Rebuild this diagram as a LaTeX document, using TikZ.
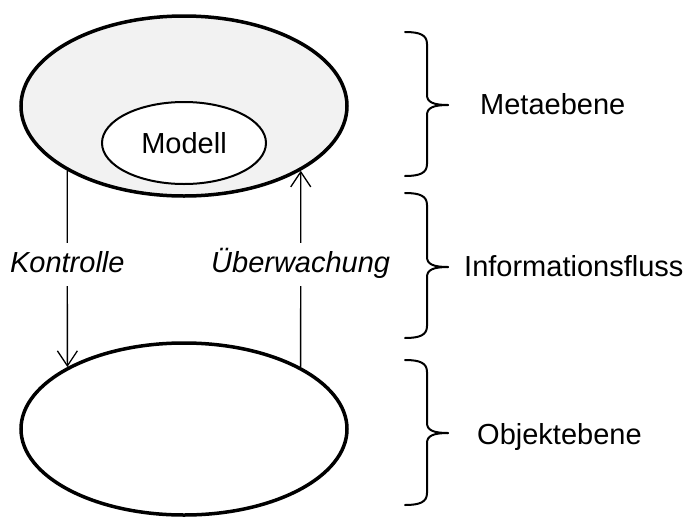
\documentclass[tikz,border=0pt]{standalone}
\usepackage{fontspec}
\setmainfont{Liberation Sans}
\usepackage{xcolor}
\definecolor{metaGray}{RGB}{242, 242, 242}
\usepackage{tikz}
\usetikzlibrary{shapes.geometric, arrows.meta}

% right-hand curly brace: top y, tip y, bottom y
\newcommand{\levelbrace}[3]{%
  \draw[brc] (405,#1) .. controls (420,#1) and (427,#1+3) .. (427,#1+12)
    -- (427,#2-10) .. controls (427,#2-3) and (433,#2) .. (448,#2);
  \draw[brc] (448,#2) .. controls (433,#2) and (427,#2+3) .. (427,#2+10)
    -- (427,#3-12) .. controls (427,#3-3) and (420,#3) .. (405,#3);
}

\begin{document}
\begin{tikzpicture}[x=1pt, y=-1pt,
  plane/.style={ellipse, draw=black, line width=3.5pt, inner sep=0pt,
                minimum width=326pt},
  model/.style={ellipse, draw=black, line width=2pt, fill=white, inner sep=0pt,
                minimum width=164pt, minimum height=82pt,
                font=\fontsize{29}{35}\selectfont},
  arr/.style={-{Straight Barb[length=15pt, width=20pt]}, line width=1.3pt},
  lbl/.style={fill=white, inner sep=7pt, text height=22pt, text depth=7pt,
              font=\fontsize{29}{35}\selectfont\itshape},
  side/.style={anchor=base west, inner sep=0pt,
               font=\fontsize{29}{35}\selectfont},
  brc/.style={line width=2pt, line cap=round}]

  \useasboundingbox (0,0) rectangle (691,517);

  % -- Metaebene ------------------------------------------------------
  \node[plane, fill=metaGray, minimum height=180pt] (meta) at (184,106) {};
  \node[model] (modell) at (184,143) {Modell};

  % -- Objektebene ----------------------------------------------------
  \node[plane, fill=white, minimum height=172pt] (obj) at (184,429) {};

  % -- Informationsfluss ----------------------------------------------
  \draw[arr] (meta.209) -- node[lbl, pos=0.48] (ctrl) {Kontrolle} (obj.152);
  \draw[arr] (obj.28) -- node[lbl, pos=0.52] (watch) {Überwachung} (meta.331);

  % -- Braces and level names -----------------------------------------
  \levelbrace{32}{105}{176}
  \levelbrace{193}{267}{338}
  \levelbrace{360}{433}{505}

  \node[side] (lmeta) at (480,114) {Metaebene};
  \node[side] (linfo) at (464,276) {Informationsfluss};
  \node[side] (lobj) at (477,444) {Objektebene};

\end{tikzpicture}
\end{document}
